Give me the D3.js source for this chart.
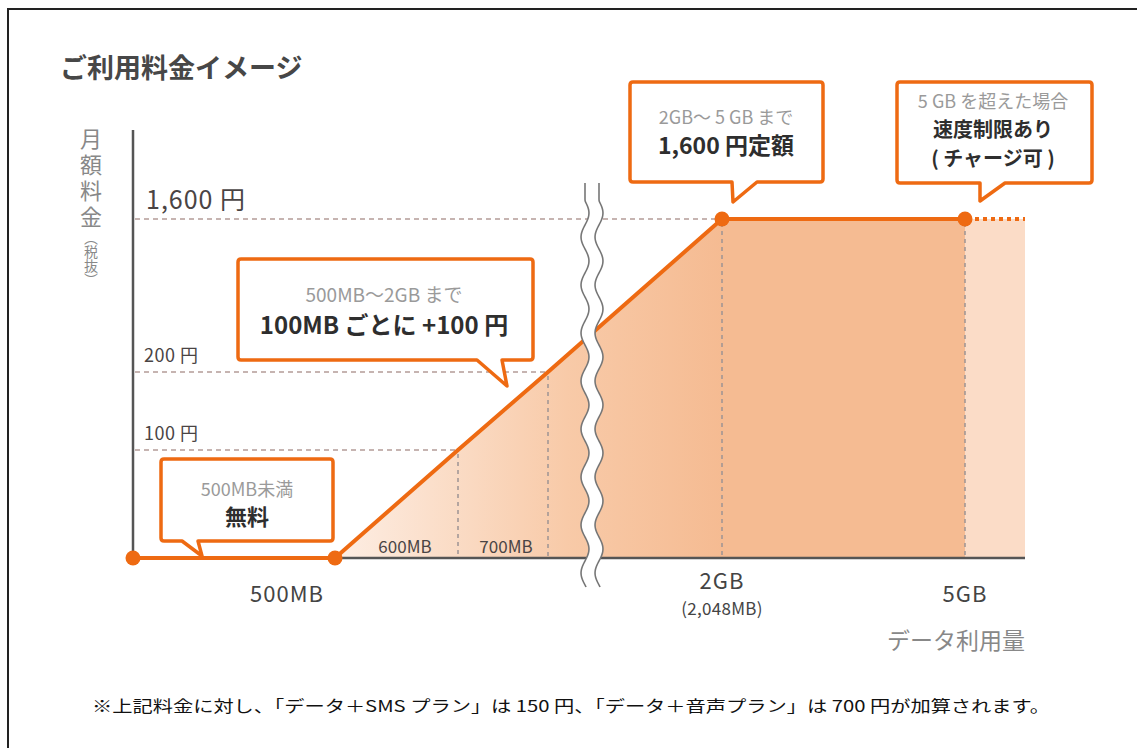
<!DOCTYPE html>
<html>
<head>
<meta charset="utf-8">
<script src="https://cdn.jsdelivr.net/npm/d3@7"></script>
<style>
  html, body { margin: 0; padding: 0; background: #fff; }
  svg { display: block; }
  text { font-family: "Noto Sans CJK JP", "Noto Sans", sans-serif; }
</style>
</head>
<body>
<svg id="chart" width="1137" height="748"></svg>
<script>
// data usage (MB) and monthly fee (yen)
var usageMB = [0, 500, 600, 700, 2048, 5120];
var feeYen  = [0, 0, 100, 200, 1600, 1600];
var overMB  = 6000;   // dotted continuation after 5GB

var dotUsage = [0, 500, 2048, 5120];
var guideUsage = [600, 700, 2048, 5120];

var yTicks = [100, 200, 1600];
var yTickLabels = ["100 円", "200 円", "1,600 円"];
var yTickReach = [600, 700, 2048];   // dashed guide stops where the line reaches the fee

var xLabels = [
  {mb: 500,  lines: ["500MB"]},
  {mb: 2048, lines: ["2GB", "(2,048MB)"]},
  {mb: 5120, lines: ["5GB"]}
];
var smallXLabels = ["600MB", "700MB"];

var notes = [
  {sub: "500MB未満", main: ["無料"]},
  {sub: "500MB〜2GB まで", main: ["100MB ごとに +100 円"]},
  {sub: "2GB〜 5 GB まで", main: ["1,600 円定額"]},
  {sub: "5 GB を超えた場合", main: ["速度制限あり", "( チャージ可 )"]}
];

var orange = "#ee6a12";
var svg = d3.select("#chart");

// piecewise scales (the picture is not to scale)
var x = d3.scaleLinear()
  .domain([0, 500, 600, 700, 2048, 5120, overMB])
  .range([133, 335, 458, 548, 722, 965, 1025]);
var y = d3.scaleLinear()
  .domain([0, 100, 200, 1600])
  .range([558, 450, 372, 219]);

// frame
svg.append("rect")
  .attr("x", 8).attr("y", 9)
  .attr("width", 1140).attr("height", 750)
  .attr("fill", "none").attr("stroke", "#222").attr("stroke-width", 2);

// title
svg.append("text")
  .attr("x", 60).attr("y", 78)
  .attr("font-size", 27).attr("font-weight", "bold")
  .attr("fill", "#474747")
  .text("ご利用料金イメージ");

// gradient for the paid area
var defs = svg.append("defs");
var grad = defs.append("linearGradient")
  .attr("id", "paid")
  .attr("gradientUnits", "userSpaceOnUse")
  .attr("x1", x(500)).attr("x2", x(2048))
  .attr("y1", 0).attr("y2", 0);
grad.append("stop").attr("offset", 0).attr("stop-color", "#fdeee4");
grad.append("stop").attr("offset", 0.6).attr("stop-color", "#f8caa8");
grad.append("stop").attr("offset", 1).attr("stop-color", "#f5bb92");

var pts = usageMB.map(function(d, i) { return {mb: d, fee: feeYen[i]}; });

var area = d3.area()
  .x(function(d) { return x(d.mb); })
  .y0(y(0))
  .y1(function(d) { return y(d.fee); });

svg.append("path")
  .datum(pts.filter(function(d) { return d.mb >= 500; }))
  .attr("d", area)
  .attr("fill", "url(#paid)");

svg.append("path")
  .datum([{mb: 5120, fee: 1600}, {mb: overMB, fee: 1600}])
  .attr("d", area)
  .attr("fill", "#fbdcc7");

// horizontal guides + tick labels
yTicks.forEach(function(v, i) {
  svg.append("line")
    .attr("x1", x(0) + 2).attr("x2", x(yTickReach[i]))
    .attr("y1", y(v)).attr("y2", y(v))
    .attr("stroke", "#c6b4b1").attr("stroke-width", 2)
    .attr("stroke-dasharray", "5,4");
  var big = v === 1600;
  svg.append("text")
    .attr("x", big ? 146 : 144)
    .attr("y", y(v) - 10)
    .attr("font-size", big ? 25 : 18)
    .attr("letter-spacing", big ? 1 : 0.5)
    .attr("fill", "#4a4444")
    .text(yTickLabels[i]);
});

// vertical guides under the line
guideUsage.forEach(function(mb) {
  var fee = feeYen[usageMB.indexOf(mb)];
  svg.append("line")
    .attr("x1", x(mb)).attr("x2", x(mb))
    .attr("y1", y(fee) + 4).attr("y2", y(0))
    .attr("stroke", "#9d9494").attr("stroke-width", 1.5)
    .attr("stroke-dasharray", "4,4");
});

// axes
svg.append("line")
  .attr("x1", x(0)).attr("x2", x(0))
  .attr("y1", 130).attr("y2", y(0))
  .attr("stroke", "#555").attr("stroke-width", 2.5);
svg.append("line")
  .attr("x1", x(0)).attr("x2", x(overMB))
  .attr("y1", y(0)).attr("y2", y(0))
  .attr("stroke", "#555").attr("stroke-width", 2.5);

// price line
var line = d3.line()
  .x(function(d) { return x(d.mb); })
  .y(function(d) { return y(d.fee); });

svg.append("path")
  .datum(pts)
  .attr("d", line)
  .attr("fill", "none").attr("stroke", orange)
  .attr("stroke-width", 4).attr("stroke-linejoin", "round");

svg.append("line")
  .attr("x1", x(5120) + 10).attr("x2", x(overMB))
  .attr("y1", y(1600)).attr("y2", y(1600))
  .attr("stroke", orange).attr("stroke-width", 4)
  .attr("stroke-dasharray", "4,4");

// axis break (wavy band)
function wave(cx, y0, y1) {
  var p = [];
  for (var yy = y0; yy <= y1; yy += 2) {
    var a = yy < y0 + 18 ? 0 : 4;
    p.push([cx + a * Math.sin((yy - y0 - 18) / 48 * 2 * Math.PI), yy]);
  }
  return p;
}
var wl = wave(585, 183, 588), wr = wave(599, 183, 588);
svg.append("path")
  .attr("d", d3.line()(wl.concat(wr.slice().reverse())) + "Z")
  .attr("fill", "#fff");
[wl, wr].forEach(function(w) {
  svg.append("path")
    .attr("d", d3.line().curve(d3.curveBasis)(w))
    .attr("fill", "none").attr("stroke", "#777").attr("stroke-width", 1.6);
});

// dots
svg.selectAll("circle.dot")
  .data(dotUsage)
  .enter().append("circle")
  .attr("class", "dot")
  .attr("cx", function(d) { return x(d); })
  .attr("cy", function(d) { return y(feeYen[usageMB.indexOf(d)]); })
  .attr("r", 7.5)
  .attr("fill", orange);

// x labels (multi-line labels as tspans of one text)
xLabels.forEach(function(l) {
  var cx = x(l.mb) - (l.mb === 500 ? 48 : 0);
  var t = svg.append("text")
    .attr("x", cx)
    .attr("y", l.mb === 2048 ? 589 : 602)
    .attr("text-anchor", "middle")
    .attr("fill", "#444");
  l.lines.forEach(function(s, j) {
    t.append("tspan")
      .attr("x", cx)
      .attr("dy", j === 0 ? 0 : 26)
      .attr("font-size", j === 0 ? 22 : 17)
      .attr("letter-spacing", j === 0 ? 1 : 0.3)
      .text(s);
  });
});
smallXLabels.forEach(function(t, i) {
  svg.append("text")
    .attr("x", i === 0 ? 405 : 506)
    .attr("y", 553)
    .attr("text-anchor", "middle")
    .attr("font-size", 17)
    .attr("fill", "#4a4444")
    .text(t);
});
svg.append("text")
  .attr("x", x(overMB)).attr("y", 649)
  .attr("text-anchor", "end")
  .attr("font-size", 23).attr("fill", "#888")
  .text("データ利用量");

// y axis title, vertical writing
svg.append("text")
  .attr("x", 91).attr("y", 128)
  .style("writing-mode", "vertical-rl")
  .attr("font-size", 22).attr("letter-spacing", 4)
  .attr("fill", "#888")
  .text("月額料金");
svg.append("text")
  .attr("x", 91).attr("y", 231)
  .style("writing-mode", "vertical-rl")
  .attr("font-size", 14)
  .attr("fill", "#888")
  .text("（税抜）");

// callouts
function callout(bx, by, bw, bh, tail) {
  var r = 3, p = d3.path();
  p.moveTo(bx + r, by);
  p.lineTo(bx + bw - r, by);
  p.quadraticCurveTo(bx + bw, by, bx + bw, by + r);
  p.lineTo(bx + bw, by + bh - r);
  p.quadraticCurveTo(bx + bw, by + bh, bx + bw - r, by + bh);
  p.lineTo(tail[2][0], by + bh);
  p.lineTo(tail[1][0], tail[1][1]);
  p.lineTo(tail[0][0], by + bh);
  p.lineTo(bx + r, by + bh);
  p.quadraticCurveTo(bx, by + bh, bx, by + bh - r);
  p.lineTo(bx, by + r);
  p.quadraticCurveTo(bx, by, bx + r, by);
  p.closePath();
  svg.append("path")
    .attr("d", p.toString())
    .attr("fill", "#fff").attr("stroke", orange)
    .attr("stroke-width", 3.5).attr("stroke-linejoin", "round");
}

var boxes = [
  {x: 161, y: 459, w: 172, h: 82, tail: [[182], [202, 556], [198]], cx: 247, sub: 496, main: 525, subSize: 18, mainSize: 22},
  {x: 238, y: 259, w: 295, h: 101, tail: [[477], [507, 386], [502]], cx: 384, sub: 302, main: 334, subSize: 19, mainSize: 24},
  {x: 630, y: 82, w: 193, h: 100, tail: [[732], [733, 202], [757]], cx: 726, sub: 124, main: 154, subSize: 18, mainSize: 23},
  {x: 897, y: 82, w: 195, h: 101, tail: [[980], [980, 201], [1005]], cx: 993, sub: 108, main: 137, subSize: 18, mainSize: 20}
];

boxes.forEach(function(b, i) {
  callout(b.x, b.y, b.w, b.h, b.tail);
  svg.append("text")
    .attr("x", b.cx).attr("y", b.sub)
    .attr("text-anchor", "middle")
    .attr("font-size", b.subSize).attr("fill", "#9a9a9a")
    .text(notes[i].sub);
  var t = svg.append("text")
    .attr("x", b.cx).attr("y", b.main)
    .attr("text-anchor", "middle")
    .attr("font-size", b.mainSize).attr("font-weight", "bold")
    .attr("fill", "#2e2e2e");
  notes[i].main.forEach(function(s, j) {
    t.append("tspan")
      .attr("x", b.cx)
      .attr("dy", j === 0 ? 0 : 29)
      .text(s);
  });
});

// footnote
svg.append("text")
  .attr("x", 92).attr("y", 712)
  .attr("font-size", 16).attr("fill", "#111")
  .attr("textLength", 958).attr("lengthAdjust", "spacingAndGlyphs")
  .text("※上記料金に対し、「データ＋SMS プラン」は 150 円、「データ＋音声プラン」は 700 円が加算されます。");
</script>
</body>
</html>
